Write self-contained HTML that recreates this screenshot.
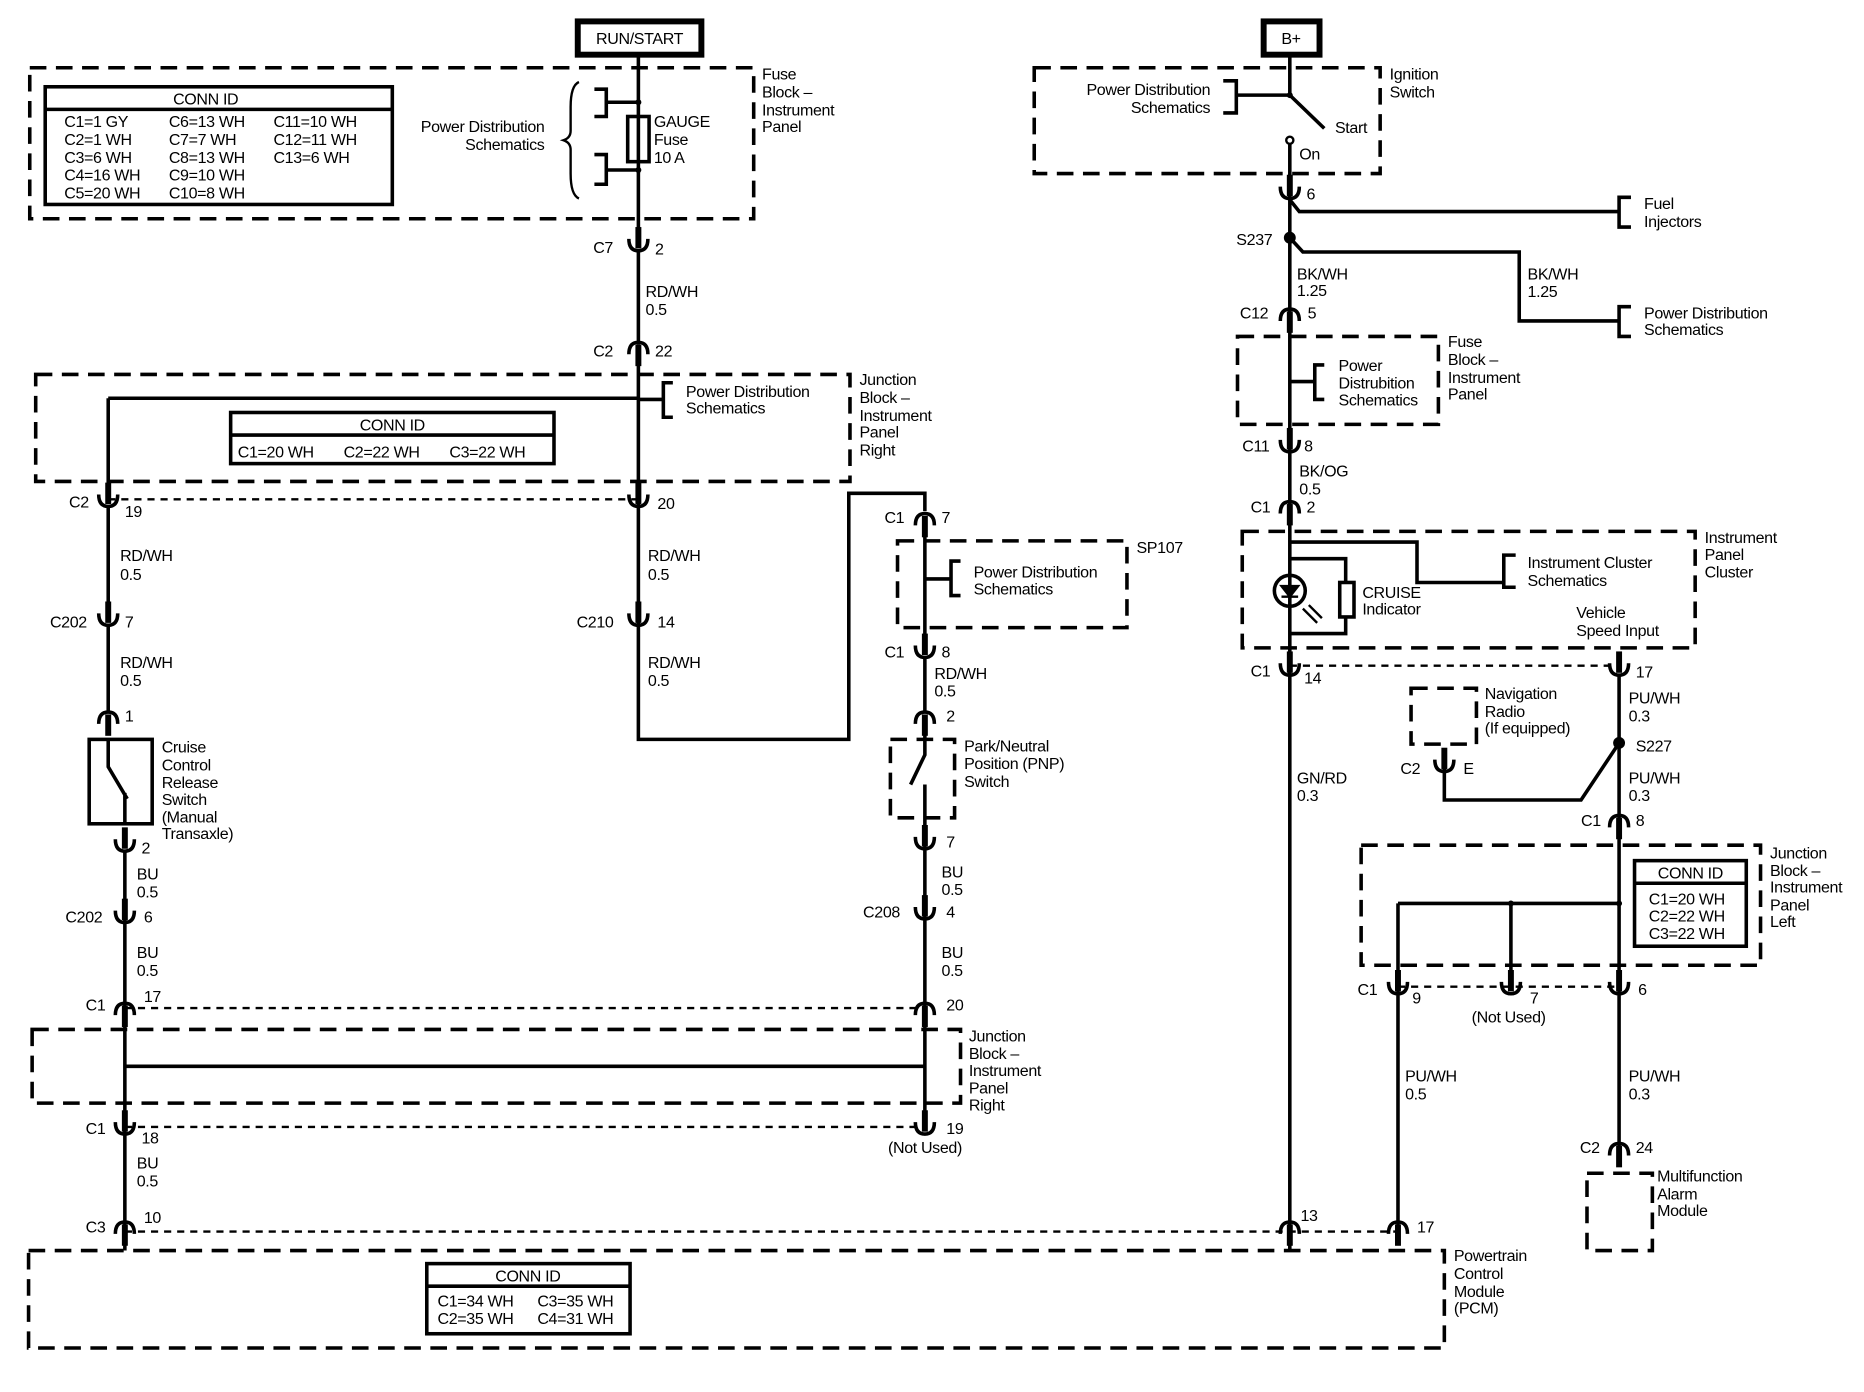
<!DOCTYPE html>
<html><head><meta charset="utf-8"><style>
html,body{margin:0;padding:0;background:#fff}
svg{display:block}
text{font-family:"Liberation Sans",Arial,sans-serif;font-size:13.5px;fill:#000;letter-spacing:-0.3px}
.w{stroke:#000;stroke-width:3;fill:none}
.t{stroke:#000;stroke-width:2;fill:none}
.d{stroke:#000;stroke-width:3;fill:none;stroke-dasharray:14 8}
.o{stroke:#000;stroke-width:2;fill:none;stroke-dasharray:6 5}
</style></head><body>
<svg width="1864" height="1392" viewBox="0 0 1568 1171" xmlns="http://www.w3.org/2000/svg">
<defs>
<g id="U"><path d="M-8,-4 Q-8,6 0,6 Q8,6 8,-4" class="w"/><line x1="0" y1="-14" x2="0" y2="4" stroke="#000" stroke-width="5"/></g>
<g id="N"><path d="M-8,4 Q-8,-6 0,-6 Q8,-6 8,4" class="w"/><line x1="0" y1="-4" x2="0" y2="14" stroke="#000" stroke-width="5"/></g>
</defs>

<!-- RUN/START -->
<rect x="486" y="18" width="104" height="28" fill="none" stroke="#000" stroke-width="5"/>
<text x="538" y="37" text-anchor="middle" font-size="14">RUN/START</text>
<rect x="1063" y="18" width="47" height="28" fill="none" stroke="#000" stroke-width="5"/>
<text x="1086" y="37" text-anchor="middle">B+</text>

<!-- Fuse block top -->
<rect x="25" y="57" width="609" height="127" class="d"/>
<rect x="38" y="73" width="292" height="99" fill="none" stroke="#000" stroke-width="3"/>
<line x1="38" y1="92" x2="330" y2="92" class="w"/>
<text x="173" y="88" text-anchor="middle">CONN ID</text>
<text x="54" y="107">C1=1 GY</text><text x="54" y="122">C2=1 WH</text><text x="54" y="137">C3=6 WH</text><text x="54" y="152">C4=16 WH</text><text x="54" y="167">C5=20 WH</text>
<text x="142" y="107">C6=13 WH</text><text x="142" y="122">C7=7 WH</text><text x="142" y="137">C8=13 WH</text><text x="142" y="152">C9=10 WH</text><text x="142" y="167">C10=8 WH</text>
<text x="230" y="107">C11=10 WH</text><text x="230" y="122">C12=11 WH</text><text x="230" y="137">C13=6 WH</text>
<text x="458" y="111" text-anchor="end">Power Distribution</text><text x="458" y="126" text-anchor="end">Schematics</text>
<path d="M487,69 Q480,72 480,90 L480,110 Q480,116 474,118 Q480,120 480,126 L480,146 Q480,164 487,167" class="t"/>
<path d="M500,75 H510 V98 H500 M510,86 H537 M500,130 H510 V155 H500 M510,143 H537" class="w"/>
<line x1="537" y1="46" x2="537" y2="200" class="w"/>
<rect x="528" y="98" width="18" height="38" fill="#fff" stroke="#000" stroke-width="3"/>
<line x1="537" y1="98" x2="537" y2="136" class="w"/>
<circle cx="537" cy="86" r="2.5"/><circle cx="537" cy="143" r="2.5"/>
<text x="550" y="107">GAUGE</text><text x="550" y="122">Fuse</text><text x="550" y="137">10 A</text>
<text x="641" y="67">Fuse</text><text x="641" y="82">Block –</text><text x="641" y="97">Instrument</text><text x="641" y="111">Panel</text>

<use href="#U" x="537" y="205"/>
<text x="499" y="213">C7</text><text x="551" y="214">2</text>
<line x1="537" y1="210" x2="537" y2="290" class="w"/>
<text x="543" y="250">RD/WH</text><text x="543" y="265">0.5</text>
<use href="#N" x="537" y="294"/>
<text x="499" y="300">C2</text><text x="551" y="300">22</text>

<!-- Junction block right (top) -->
<rect x="30" y="315" width="685" height="90" class="d"/>
<rect x="194" y="347" width="272" height="43" fill="none" stroke="#000" stroke-width="3"/>
<line x1="194" y1="366" x2="466" y2="366" class="w"/>
<text x="330" y="362" text-anchor="middle">CONN ID</text>
<text x="200" y="385">C1=20 WH</text><text x="289" y="385">C2=22 WH</text><text x="378" y="385">C3=22 WH</text>
<path d="M91,335 H537 M537,300 V622 H714 V415 H778 V430" class="w"/>
<line x1="91" y1="335" x2="91" y2="415" class="w"/>
<path d="M566,322 H558 V351 H566 M537,336 H558" class="w"/>
<text x="577" y="334">Power Distribution</text><text x="577" y="348">Schematics</text>
<text x="723" y="324">Junction</text><text x="723" y="339">Block –</text><text x="723" y="354">Instrument</text><text x="723" y="368">Panel</text><text x="723" y="383">Right</text>
<line x1="91" y1="420" x2="537" y2="420" class="o"/>
<use href="#U" x="91" y="420"/><text x="58" y="427">C2</text><text x="105" y="435">19</text>
<use href="#U" x="537" y="420"/><text x="553" y="428">20</text>
<line x1="91" y1="425" x2="91" y2="515" class="w"/>
<text x="101" y="472">RD/WH</text><text x="101" y="488">0.5</text>
<text x="545" y="472">RD/WH</text><text x="545" y="488">0.5</text>
<use href="#U" x="91" y="520"/><text x="42" y="528">C202</text><text x="105" y="528">7</text>
<use href="#U" x="537" y="520"/><text x="485" y="528">C210</text><text x="553" y="528">14</text>
<text x="545" y="562">RD/WH</text><text x="545" y="577">0.5</text>
<line x1="91" y1="525" x2="91" y2="600" class="w"/>
<text x="101" y="562">RD/WH</text><text x="101" y="577">0.5</text>
<use href="#N" x="91" y="605"/><text x="105" y="607">1</text>
<!-- cruise release switch -->
<rect x="75" y="622" width="53" height="71" fill="none" stroke="#000" stroke-width="3"/>
<path d="M91,622 V645 L107,672 M105,667 V693" class="w"/>
<text x="136" y="633">Cruise</text><text x="136" y="648">Control</text><text x="136" y="663">Release</text><text x="136" y="677">Switch</text><text x="136" y="692">(Manual</text><text x="136" y="706">Transaxle)</text>
<use href="#U" x="105" y="710"/><text x="119" y="718">2</text>
<line x1="105" y1="715" x2="105" y2="1052" class="w"/>
<text x="115" y="740">BU</text><text x="115" y="755">0.5</text>
<use href="#U" x="105" y="770"/><text x="55" y="776">C202</text><text x="121" y="776">6</text>
<text x="115" y="806">BU</text><text x="115" y="821">0.5</text>
<use href="#N" x="105" y="850"/><text x="72" y="850">C1</text><text x="121" y="843">17</text>
<line x1="105" y1="848" x2="778" y2="848" class="o"/>
<rect x="27" y="866" width="781" height="62" class="d"/>
<line x1="105" y1="897" x2="778" y2="897" class="w"/>
<use href="#U" x="105" y="948"/><text x="72" y="954">C1</text><text x="119" y="962">18</text>
<line x1="105" y1="948" x2="778" y2="948" class="o"/>
<text x="115" y="983">BU</text><text x="115" y="998">0.5</text>
<use href="#N" x="105" y="1034"/><text x="72" y="1037">C3</text><text x="121" y="1029">10</text>
<line x1="105" y1="1036" x2="1176" y2="1036" class="o"/>

<!-- PNP path -->
<use href="#N" x="778" y="438"/><text x="744" y="440">C1</text><text x="792" y="440">7</text>
<line x1="778" y1="438" x2="778" y2="545" class="w"/>
<rect x="755" y="455" width="193" height="73" class="d"/>
<path d="M808,472 H800 V501 H808 M778,487 H800" class="w"/>
<text x="819" y="486">Power Distribution</text><text x="819" y="500">Schematics</text>
<text x="956" y="465">SP107</text>
<use href="#U" x="778" y="547"/><text x="744" y="553">C1</text><text x="792" y="553">8</text>
<line x1="778" y1="552" x2="778" y2="598" class="w"/>
<text x="786" y="571">RD/WH</text><text x="786" y="586">0.5</text>
<use href="#N" x="778" y="605"/><text x="796" y="607">2</text>
<rect x="749" y="622" width="54" height="66" class="d"/>
<path d="M778,606 V635 L766,660 M778,660 V710" class="w"/>
<text x="811" y="632">Park/Neutral</text><text x="811" y="647">Position (PNP)</text><text x="811" y="662">Switch</text>
<use href="#U" x="778" y="708"/><text x="796" y="713">7</text>
<line x1="778" y1="708" x2="778" y2="950" class="w"/>
<text x="792" y="738">BU</text><text x="792" y="753">0.5</text>
<use href="#U" x="778" y="767"/><text x="726" y="772">C208</text><text x="796" y="772">4</text>
<text x="792" y="806">BU</text><text x="792" y="821">0.5</text>
<use href="#N" x="778" y="850"/><text x="796" y="850">20</text>
<use href="#U" x="778" y="948"/><text x="796" y="954">19</text><text x="747" y="970">(Not Used)</text>
<text x="815" y="876">Junction</text><text x="815" y="891">Block –</text><text x="815" y="905">Instrument</text><text x="815" y="920">Panel</text><text x="815" y="934">Right</text>

<!-- PCM -->
<rect x="24" y="1052" width="1191" height="82" class="d"/>
<rect x="359" y="1063" width="171" height="59" fill="none" stroke="#000" stroke-width="3"/>
<line x1="359" y1="1082" x2="530" y2="1082" class="w"/>
<text x="444" y="1078" text-anchor="middle">CONN ID</text>
<text x="368" y="1099">C1=34 WH</text><text x="452" y="1099">C3=35 WH</text>
<text x="368" y="1114">C2=35 WH</text><text x="452" y="1114">C4=31 WH</text>
<text x="1223" y="1061">Powertrain</text><text x="1223" y="1076">Control</text><text x="1223" y="1091">Module</text><text x="1223" y="1105">(PCM)</text>

<!-- Right side -->
<rect x="870" y="57" width="291" height="89" class="d"/>
<path d="M1029,68 H1040 V95 H1029" class="w"/>
<line x1="1040" y1="80" x2="1085" y2="80" class="w"/>
<text x="1018" y="80" text-anchor="end">Power Distribution</text><text x="1018" y="95" text-anchor="end">Schematics</text>
<path d="M1085,46 V80 L1114,108 M1085,120 V1052" class="w"/>
<circle cx="1085" cy="80" r="2.5"/>
<circle cx="1085" cy="118" r="3" fill="#fff" stroke="#000" stroke-width="2"/>
<text x="1123" y="112">Start</text><text x="1093" y="134">On</text>
<text x="1169" y="67">Ignition</text><text x="1169" y="82">Switch</text>
<use href="#U" x="1085" y="161"/><text x="1099" y="168">6</text>
<path d="M1085,168 L1093,178 H1362 M1372,166 H1362 V191 H1372" class="w"/>
<text x="1383" y="176">Fuel</text><text x="1383" y="191">Injectors</text>
<circle cx="1085" cy="200" r="5"/><text x="1040" y="206">S237</text>
<path d="M1085,200 L1096,212 H1278 V270 H1362 M1372,258 H1362 V283 H1372" class="w"/>
<text x="1285" y="235">BK/WH</text><text x="1285" y="250">1.25</text>
<text x="1383" y="268">Power Distribution</text><text x="1383" y="282">Schematics</text>
<text x="1091" y="235">BK/WH</text><text x="1091" y="249">1.25</text>
<use href="#N" x="1085" y="266"/><text x="1043" y="268">C12</text><text x="1100" y="268">5</text>
<rect x="1041" y="283" width="169" height="74" class="d"/>
<path d="M1114,307 H1106 V336 H1114 M1085,321 H1106" class="w"/>
<text x="1126" y="312">Power</text><text x="1126" y="327">Distrubition</text><text x="1126" y="341">Schematics</text>
<text x="1218" y="292">Fuse</text><text x="1218" y="307">Block –</text><text x="1218" y="322">Instrument</text><text x="1218" y="336">Panel</text>
<use href="#U" x="1085" y="374"/><text x="1045" y="380">C11</text><text x="1097" y="380">8</text>
<text x="1093" y="401">BK/OG</text><text x="1093" y="416">0.5</text>
<use href="#N" x="1085" y="428"/><text x="1052" y="431">C1</text><text x="1099" y="431">2</text>
<rect x="1045" y="447" width="381" height="98" class="d"/>
<path d="M1085,456 H1192 V490 H1265 M1275,467 H1265 V494 H1275 M1085,470 H1132 V533 H1085" class="w"/>
<rect x="1127" y="490" width="12" height="29" fill="#fff" stroke="#000" stroke-width="3"/>
<circle cx="1085" cy="497" r="13" fill="#fff" stroke="#000" stroke-width="3"/>
<line x1="1085" y1="484" x2="1085" y2="510" class="w"/>
<path d="M1078,493 H1092 L1085,502 Z M1078,502 H1092" stroke="#000" stroke-width="2"/>
<path d="M1096,512 L1108,524 M1101,509 L1112,520" class="t"/>
<text x="1146" y="503">CRUISE</text><text x="1146" y="517">Indicator</text>
<text x="1285" y="478">Instrument Cluster</text><text x="1285" y="493">Schematics</text>
<text x="1326" y="520">Vehicle</text><text x="1326" y="535">Speed Input</text>
<text x="1434" y="457">Instrument</text><text x="1434" y="471">Panel</text><text x="1434" y="486">Cluster</text>
<line x1="1085" y1="560" x2="1362" y2="560" class="o"/>
<use href="#U" x="1085" y="562"/><text x="1052" y="569">C1</text><text x="1097" y="575">14</text>
<use href="#U" x="1362" y="562"/><text x="1376" y="570">17</text>
<text x="1091" y="659">GN/RD</text><text x="1091" y="674">0.3</text>
<line x1="1362" y1="567" x2="1362" y2="965" class="w"/>
<text x="1370" y="592">PU/WH</text><text x="1370" y="607">0.3</text>
<circle cx="1362" cy="625" r="5"/><text x="1376" y="632">S227</text>
<path d="M1362,625 L1330,673 H1215 V645" class="w"/>
<rect x="1187" y="579" width="55" height="47" class="d"/>
<use href="#U" x="1215" y="643"/><text x="1178" y="651">C2</text><text x="1231" y="651">E</text>
<text x="1249" y="588">Navigation</text><text x="1249" y="603">Radio</text><text x="1249" y="617">(If equipped)</text>
<text x="1370" y="659">PU/WH</text><text x="1370" y="674">0.3</text>
<use href="#N" x="1362" y="692"/><text x="1330" y="695">C1</text><text x="1376" y="695">8</text>
<rect x="1145" y="711" width="336" height="101" class="d"/>
<path d="M1176,760 H1362 M1271,760 V830 M1176,760 V1040" class="w"/>
<circle cx="1271" cy="760" r="2.5"/><circle cx="1362" cy="760" r="2.5"/>
<rect x="1375" y="724" width="94" height="72" fill="none" stroke="#000" stroke-width="3"/>
<line x1="1375" y1="743" x2="1469" y2="743" class="w"/>
<text x="1422" y="739" text-anchor="middle">CONN ID</text>
<text x="1387" y="761">C1=20 WH</text><text x="1387" y="775">C2=22 WH</text><text x="1387" y="790">C3=22 WH</text>
<text x="1489" y="722">Junction</text><text x="1489" y="737">Block –</text><text x="1489" y="751">Instrument</text><text x="1489" y="766">Panel</text><text x="1489" y="780">Left</text>
<line x1="1176" y1="830" x2="1362" y2="830" class="o"/>
<use href="#U" x="1176" y="830"/><text x="1142" y="837">C1</text><text x="1188" y="844">9</text>
<use href="#U" x="1271" y="830"/><text x="1287" y="844">7</text><text x="1238" y="860">(Not Used)</text>
<use href="#U" x="1362" y="830"/><text x="1378" y="837">6</text>
<text x="1182" y="910">PU/WH</text><text x="1182" y="925">0.5</text>
<text x="1370" y="910">PU/WH</text><text x="1370" y="925">0.3</text>
<use href="#N" x="1362" y="968"/><text x="1329" y="970">C2</text><text x="1376" y="970">24</text>
<rect x="1335" y="987" width="55" height="65" class="d"/>
<text x="1394" y="994">Multifunction</text><text x="1394" y="1009">Alarm</text><text x="1394" y="1023">Module</text>
<use href="#N" x="1085" y="1034"/><text x="1094" y="1027">13</text>
<use href="#N" x="1176" y="1034"/><text x="1192" y="1037">17</text>
</svg>
</body></html>
